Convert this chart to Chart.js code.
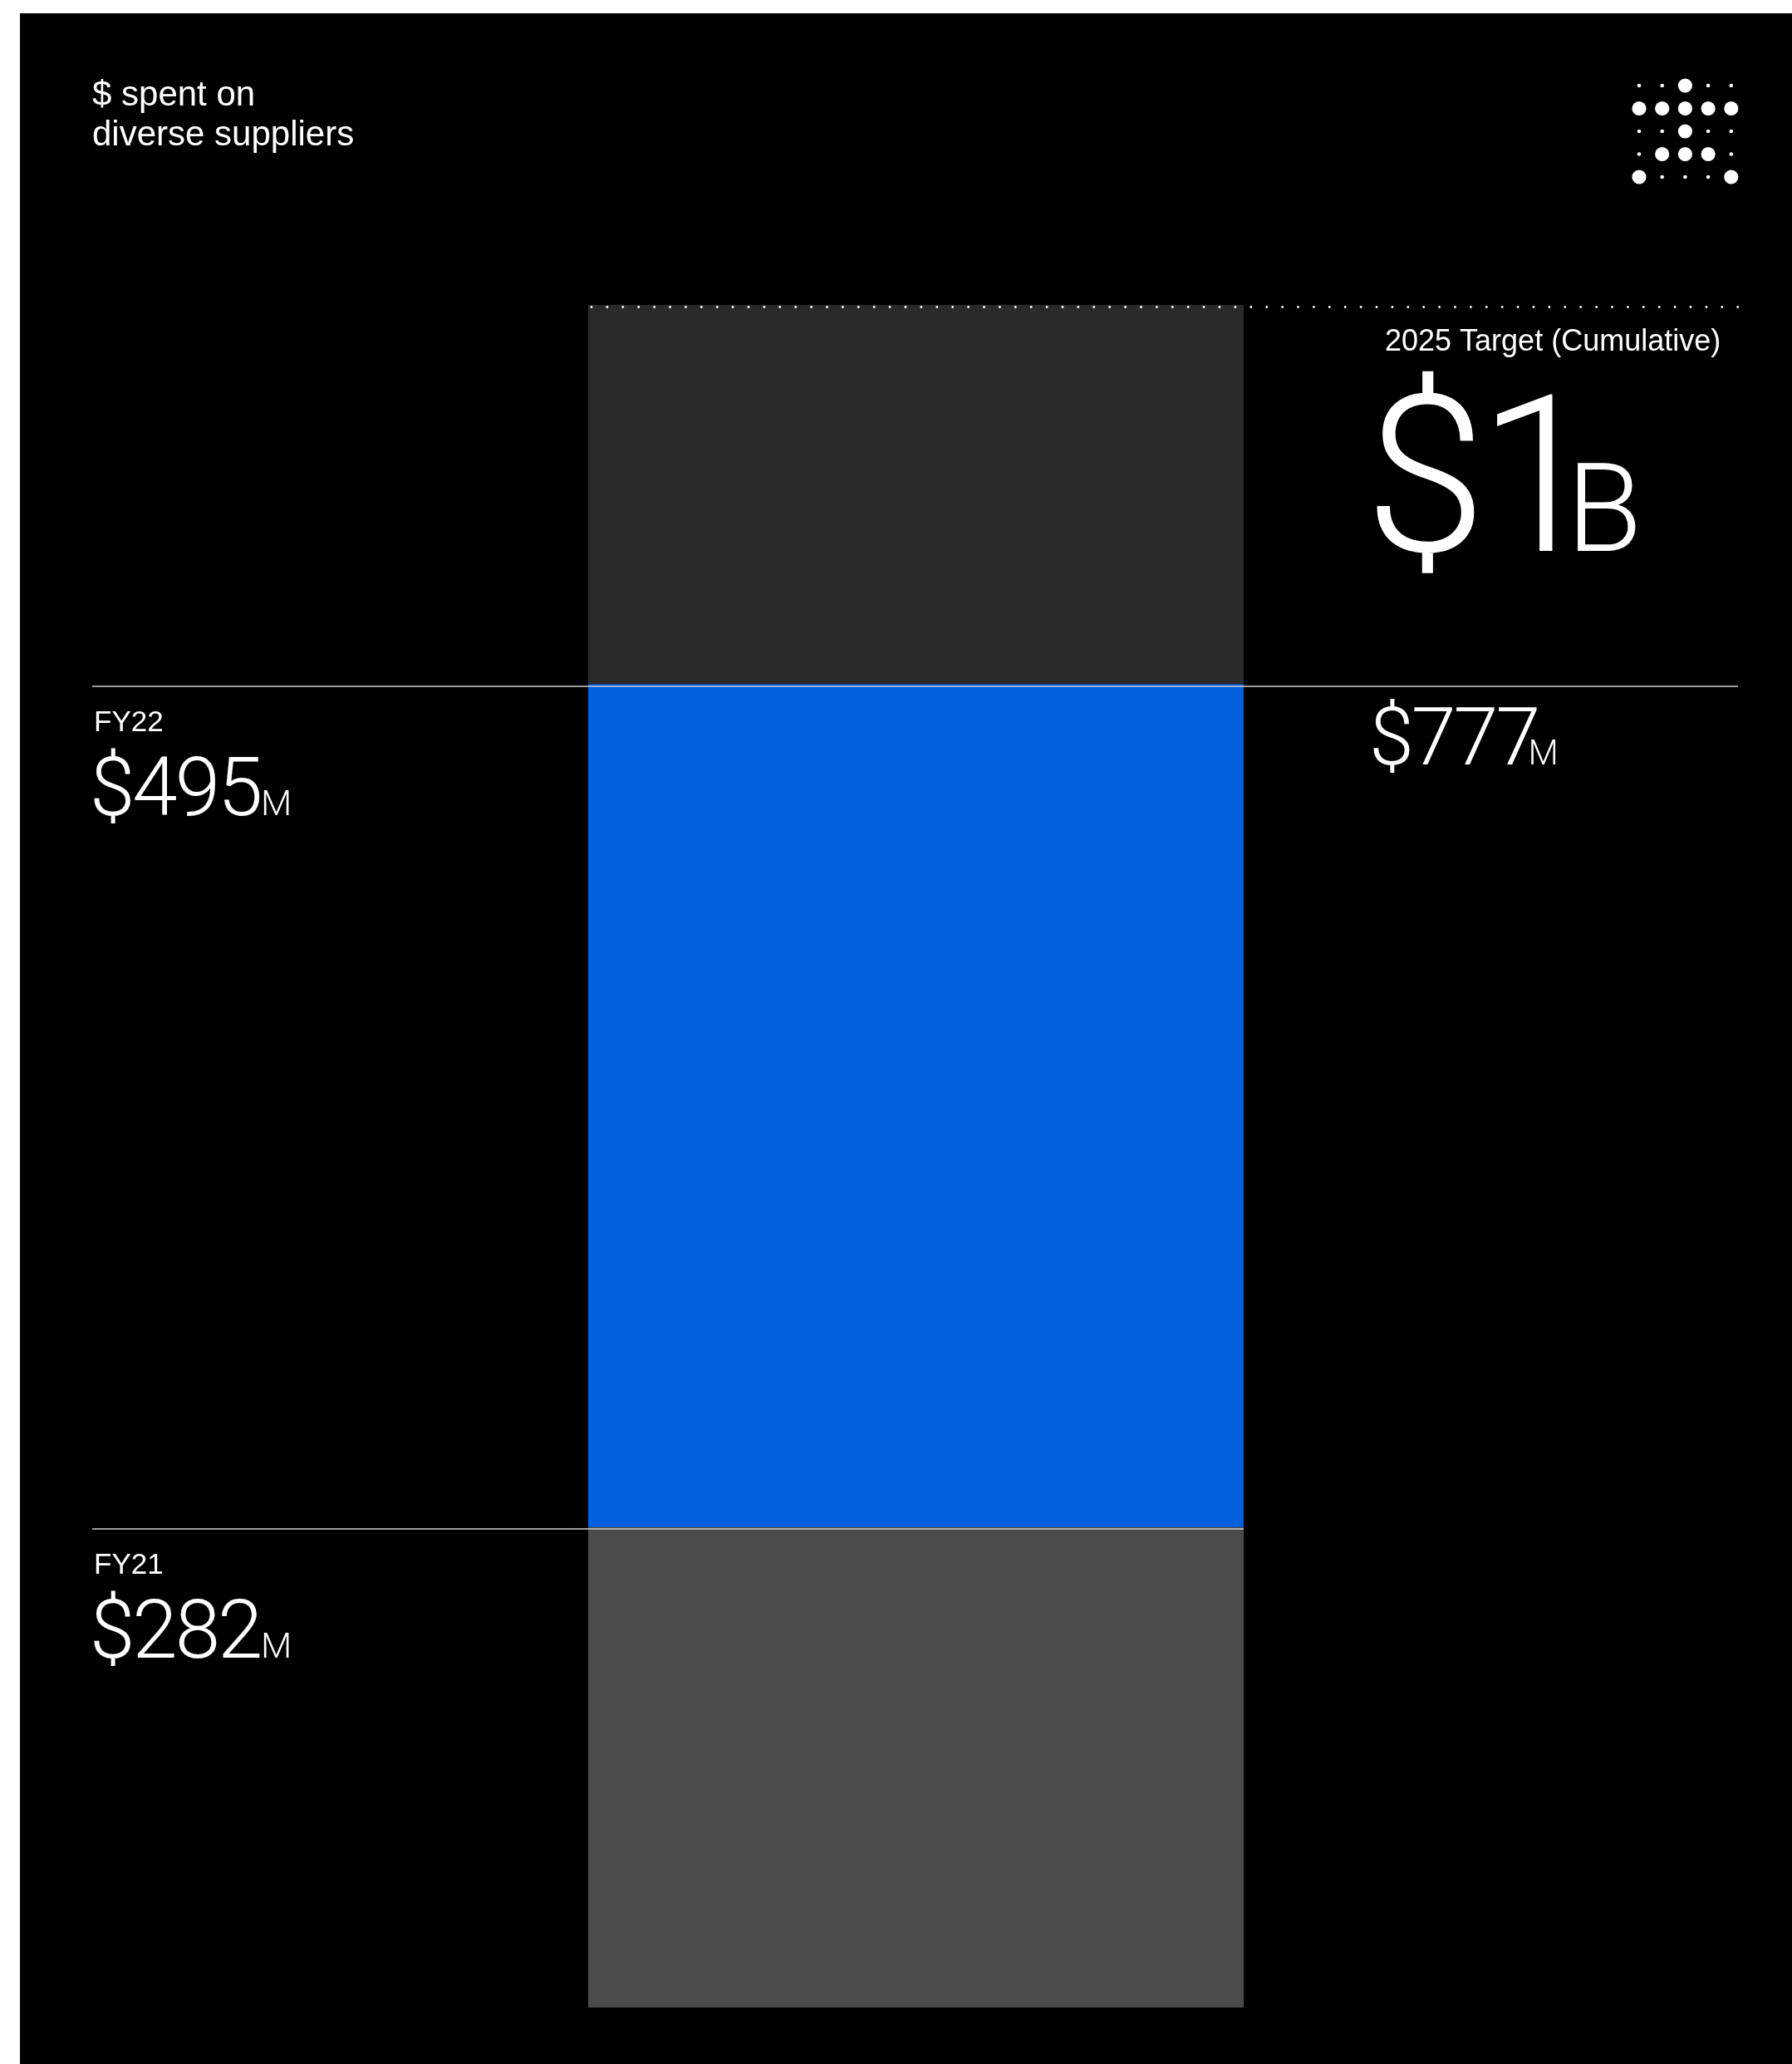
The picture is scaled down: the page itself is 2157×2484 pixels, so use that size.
<!DOCTYPE html>
<html lang="en">
<head>
<meta charset="UTF-8">
<title>$ spent on diverse suppliers</title>
<script src="https://cdn.jsdelivr.net/npm/chart.js"></script>
<style>
  html, body { margin: 0; background: #fff; }
  #panel { position: absolute; left: 24px; top: 16px; width: 2133px; height: 2468px; background: #000; }
</style>
</head>
<body>
<div id="panel"><canvas id="spendChart" width="2133" height="2468"></canvas></div>
<script>
// spend with diverse suppliers, $M
const years = ['FY21', 'FY22'];
const spend = [282, 495];
const target = 1000;
const targetLabel = '2025 Target (Cumulative)';
const targetText = ['$1', 'B'];

const segmentColors = ['#4b4b4b', '#0060de'];
const remainderColor = '#2a2a2a';

const cumulative = [];
spend.reduce((sum, v) => { cumulative.push(sum + v); return sum + v; }, 0);
const total = cumulative[cumulative.length - 1];

// small dot mark in the top right corner (B = big dot, s = small dot)
const logoRows = ['ssBss', 'BBBBB', 'ssBss', 'sBBBs', 'BsssB'];

const LINE_LEFT = 87;
const LINE_RIGHT = 2068;
const NUM_FONT = 'Roboto';
const TXT_FONT = '"Liberation Sans"';

// draws "$495" + small "M" with the ink of the first glyph starting at x
function drawAmount(ctx, main, unit, x, base, size, unitSize, spacing, gap) {
  ctx.font = `300 ${size}px ${NUM_FONT}`;
  ctx.letterSpacing = spacing + 'px';
  const m = ctx.measureText(main);
  const startX = x + m.actualBoundingBoxLeft;
  ctx.fillText(main, startX, base);
  const inkRight = startX + m.actualBoundingBoxRight;
  ctx.letterSpacing = '0px';
  ctx.font = `300 ${unitSize}px ${NUM_FONT}`;
  const u = ctx.measureText(unit);
  ctx.fillText(unit, inkRight + gap + u.actualBoundingBoxLeft, base);
}

const annotations = {
  id: 'annotations',
  afterDraw(chart) {
    const { ctx, chartArea: area, scales: { y } } = chart;
    ctx.save();
    ctx.fillStyle = '#fff';
    ctx.textBaseline = 'alphabetic';

    // heading
    ctx.font = `42px ${TXT_FONT}`;
    ctx.fillText('$ spent on', LINE_LEFT, 111);
    ctx.fillText('diverse suppliers', LINE_LEFT, 159);

    // dot mark
    logoRows.forEach((row, r) => {
      [...row].forEach((c, k) => {
        ctx.beginPath();
        ctx.arc(1949 + k * 27.7, 87 + r * 27.5, c === 'B' ? 8.6 : 2.3, 0, Math.PI * 2);
        ctx.fill();
      });
    });

    // target: dotted rule across the top of the bar
    const yTarget = y.getPixelForValue(target);
    for (let x = area.left + 4; x <= LINE_RIGHT + 2; x += 18.9) {
      ctx.beginPath();
      ctx.arc(x, yTarget + 2.5, 1.4, 0, Math.PI * 2);
      ctx.fill();
    }
    ctx.font = `36px ${TXT_FONT}`;
    ctx.fillText(targetLabel, 1643, yTarget + 55);
    drawAmount(ctx, targetText[0], targetText[1], 1631, yTarget + 296, 264, 148, -10, 29);

    // yearly boundaries and labels
    cumulative.forEach((v, i) => {
      const py = Math.round(y.getPixelForValue(v)) + 2;
      const last = i === cumulative.length - 1;
      ctx.strokeStyle = '#cfcfcf';
      ctx.lineWidth = 1.5;
      ctx.beginPath();
      ctx.moveTo(LINE_LEFT, py);
      ctx.lineTo(last ? LINE_RIGHT : area.right, py);
      ctx.stroke();

      ctx.font = `35px ${TXT_FONT}`;
      ctx.fillText(years[i], 89, py + 54);
      drawAmount(ctx, '$' + spend[i], 'M', 89, py + 155, 98, 43, -3, 4);
      if (last) drawAmount(ctx, '$' + v, 'M', 1629, py + 94, 97, 42, -3, -8);
    });
    ctx.restore();
  }
};

const datasets = years.map((label, i) => ({
  label,
  data: [spend[i]],
  backgroundColor: segmentColors[i]
}));
datasets.push({ label: 'Remaining', data: [target - total], backgroundColor: remainderColor });

new Chart(document.getElementById('spendChart'), {
  type: 'bar',
  data: { labels: ['Diverse supplier spend'], datasets },
  options: {
    responsive: false,
    animation: false,
    layout: { padding: { left: 684, right: 660, top: 351, bottom: 68 } },
    datasets: { bar: { barPercentage: 1, categoryPercentage: 1, borderWidth: 0 } },
    plugins: { legend: { display: false }, tooltip: { enabled: false } },
    scales: {
      x: { stacked: true, display: false },
      y: { stacked: true, display: false, min: 0, max: target }
    }
  },
  plugins: [annotations]
});
</script>
</body>
</html>
